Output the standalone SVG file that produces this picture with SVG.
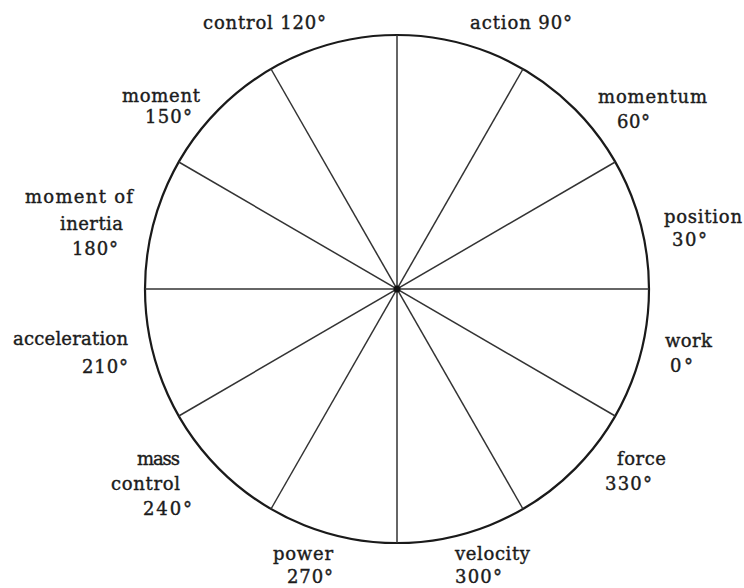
<svg xmlns="http://www.w3.org/2000/svg" width="744" height="588" viewBox="0 0 744 588">
<style>
  text { font-family: "DejaVu Serif", "Liberation Serif", serif; font-size: 18px; fill: #1c1c1c; stroke: #1c1c1c; stroke-width: 0.4; text-anchor: middle; }
  .rim { fill: none; stroke: #1a1a1a; stroke-width: 2.2; }
  .spoke { stroke: #333; stroke-width: 1.5; fill: none; }
</style>
<rect width="744" height="588" fill="#ffffff"/>
<g id="connectors">
  <ellipse class="rim" cx="397" cy="289" rx="252" ry="254"/>
  <line class="spoke" x1="397" y1="35" x2="397" y2="543"/>
  <line class="spoke" x1="145" y1="289" x2="649" y2="289"/>
  <line class="spoke" x1="615.2" y1="162" x2="178.8" y2="416"/>
  <line class="spoke" x1="523" y1="69" x2="271" y2="509"/>
  <line class="spoke" x1="271" y1="69" x2="523" y2="509"/>
  <line class="spoke" x1="178.8" y1="162" x2="615.2" y2="416"/>
  <circle cx="397" cy="289" r="3.5" fill="#111"/>
</g>
<g id="n-control">
  <text x="264.5" y="29" textLength="123">control 120°</text>
</g>
<g id="n-action">
  <text x="521" y="29" textLength="102">action 90°</text>
</g>
<g id="n-momentum">
  <text x="652.5" y="103" textLength="109">momentum</text>
  <text x="633.5" y="128" textLength="33">60°</text>
</g>
<g id="n-position">
  <text x="703" y="223" textLength="78">position</text>
  <text x="689.5" y="246" textLength="35">30°</text>
</g>
<g id="n-work">
  <text x="688.5" y="347" textLength="47">work</text>
  <text x="681.5" y="372" textLength="23">0°</text>
</g>
<g id="n-force">
  <text x="641.5" y="465" textLength="49">force</text>
  <text x="628.5" y="490" textLength="47">330°</text>
</g>
<g id="n-velocity">
  <text x="492.5" y="560" textLength="75">velocity</text>
  <text x="478.5" y="583" textLength="47">300°</text>
</g>
<g id="n-power">
  <text x="303" y="560" textLength="60">power</text>
  <text x="310" y="583" textLength="46">270°</text>
</g>
<g id="n-mass-control">
  <text x="158.5" y="465" textLength="43">mass</text>
  <text x="145.5" y="490" textLength="69">control</text>
  <text x="167.5" y="515" textLength="49">240°</text>
</g>
<g id="n-acceleration">
  <text x="70.5" y="345" textLength="115">acceleration</text>
  <text x="105" y="373" textLength="46">210°</text>
</g>
<g id="n-moment-of-inertia">
  <text x="79" y="203" textLength="108">moment of</text>
  <text x="91.5" y="230" textLength="63">inertia</text>
  <text x="95" y="255" textLength="46">180°</text>
</g>
<g id="n-moment">
  <text x="161" y="102" textLength="78">moment</text>
  <text x="168.5" y="123" textLength="47">150°</text>
</g>
</svg>
